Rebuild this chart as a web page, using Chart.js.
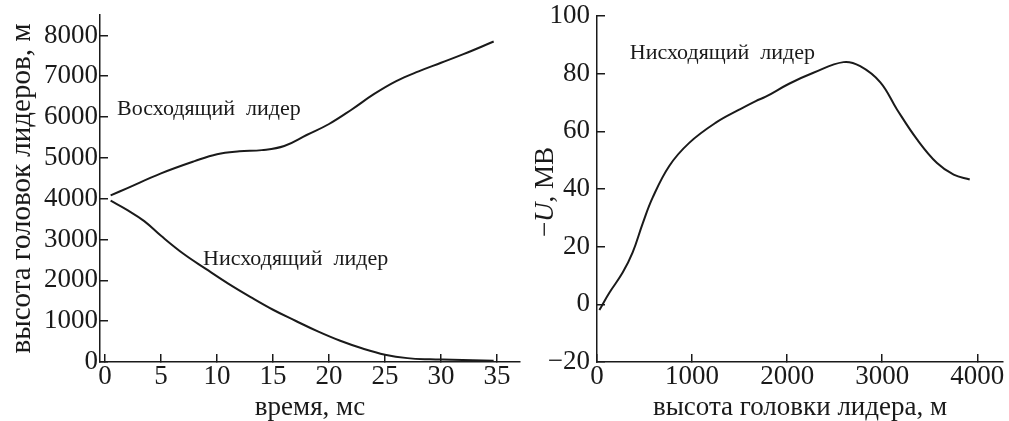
<!DOCTYPE html>
<html>
<head>
<meta charset="utf-8">
<script src="https://cdn.jsdelivr.net/npm/chart.js@4.4.1/dist/chart.umd.min.js"></script>
<style>
  body { margin: 0; background: #fff; width: 1009px; height: 421px; overflow: hidden; position: relative; }
  canvas { position: absolute; top: 0; }
  #left { left: 0; }
  #right { left: 505px; }
</style>
</head>
<body>
<canvas id="left" width="525" height="421"></canvas>
<canvas id="right" width="504" height="421"></canvas>
<script>
// left panel: heights of the leader heads vs time
const timeTicks = [0, 5, 10, 15, 20, 25, 30, 35];
const heightTicks = [0, 1000, 2000, 3000, 4000, 5000, 6000, 7000, 8000];

const upwardTime   = [0.5, 2, 5, 8, 10, 12, 14, 16, 18, 20, 22, 24, 26, 28, 30, 32, 34.7];
const upwardHeight = [4080, 4260, 4620, 4920, 5090, 5160, 5190, 5290, 5560, 5830, 6180, 6560, 6880, 7120, 7330, 7540, 7850];

const downwardTime   = [0.5, 2, 3.5, 5, 7, 9, 11, 13, 15, 17, 19, 21, 23, 25, 27, 29, 31, 34.7];
const downwardHeight = [3950, 3720, 3450, 3090, 2650, 2280, 1920, 1590, 1280, 1010, 750, 520, 330, 180, 95, 65, 55, 30];

// right panel: potential of the descending leader head vs its height
const headHeightTicks = [0, 1000, 2000, 3000, 4000];
const potentialTicks = [-20, 0, 20, 40, 60, 80, 100];

const headHeight = [25, 130, 270, 375, 480, 585, 760, 970, 1250, 1495, 1670, 1775, 2020, 2276, 2592, 2768, 2980, 3155, 3366, 3576, 3751, 3920];
const potential  = [-2, 4, 11, 18, 28, 37, 48, 56, 63, 67.5, 70.5, 72, 76.5, 80.3, 84, 82.6, 77, 67.6, 57.2, 49, 45, 43.3];

const ink = '#1a1a1a';
const serif = '"Liberation Serif", "Times New Roman", serif';
Chart.defaults.font.family = serif;
Chart.defaults.color = ink;

function toPoints(xs, ys) {
    return xs.map((x, i) => ({ x: x, y: ys[i] }));
}

function curve(xs, ys) {
    return {
        data: toPoints(xs, ys),
        borderColor: ink,
        borderWidth: 2,
        pointRadius: 0,
        fill: false,
        tension: 0.4
    };
}

function minusSign(v) {
    return v < 0 ? '\u2212' + Math.abs(v) : String(v);
}

// axis with inward tick marks and a fixed size so the plot box lands where it should
function axis(list, min, max, size, labelPad, title) {
    return {
        type: 'linear',
        min: min,
        max: max,
        afterBuildTicks: scale => { scale.ticks = list.map(v => ({ value: v })); },
        afterFit: scale => {
            if (scale.isHorizontal()) scale.height = size; else scale.width = size;
            // labels may hang over the plot edges, don't let them shrink it
            scale.paddingTop = scale.paddingBottom = scale.paddingLeft = scale.paddingRight = 0;
        },
        border: { color: ink, width: 1.5 },
        grid: { drawOnChartArea: false, drawTicks: true, tickLength: -8, color: ink, lineWidth: 1.5 },
        ticks: {
            font: { size: 27, lineHeight: 1 },
            color: ink,
            padding: labelPad,
            maxRotation: 0,
            autoSkip: false,
            callback: minusSign
        },
        title: title
    };
}

const textLabels = {
    id: 'textLabels',
    afterDatasetsDraw(chart, args, opts) {
        const { ctx, scales: { x, y } } = chart;
        ctx.save();
        ctx.font = '22px ' + serif;
        ctx.fillStyle = ink;
        ctx.textBaseline = 'alphabetic';
        opts.items.forEach(item => {
            ctx.fillText(item.text, x.getPixelForValue(item.x), y.getPixelForValue(item.y));
        });
        ctx.restore();
    }
};

// "−U, МВ" with an italic U, drawn rotated beside the right y axis
const potentialTitle = {
    id: 'potentialTitle',
    afterDraw(chart) {
        const { ctx, chartArea } = chart;
        const parts = [
            { text: '\u2212', font: '27px ' + serif },
            { text: 'U', font: 'italic 27px ' + serif },
            { text: ', МВ', font: '27px ' + serif }
        ];
        let total = 0;
        parts.forEach(p => { ctx.font = p.font; p.w = ctx.measureText(p.text).width; total += p.w; });
        ctx.save();
        ctx.translate(chartArea.left - 51, (chartArea.top + chartArea.bottom) / 2 + 3);
        ctx.rotate(-Math.PI / 2);
        ctx.fillStyle = ink;
        ctx.textBaseline = 'middle';
        let pos = -total / 2;
        parts.forEach(p => {
            ctx.font = p.font;
            ctx.fillText(p.text, pos, 0);
            pos += p.w;
        });
        ctx.restore();
    }
};

new Chart(document.getElementById('left'), {
    type: 'line',
    data: { datasets: [curve(upwardTime, upwardHeight), curve(downwardTime, downwardHeight)] },
    options: {
        responsive: false,
        animation: false,
        layout: { padding: { top: 15, right: 5, left: 0, bottom: 0 } },
        plugins: {
            legend: { display: false },
            tooltip: { enabled: false },
            textLabels: {
                items: [
                    { text: 'Восходящий  лидер', x: 1.07, y: 6040 },
                    { text: 'Нисходящий  лидер', x: 8.75, y: 2370 }
                ]
            }
        },
        scales: {
            x: axis(timeTicks, -0.45, 37.05, 59, 9, {
                display: true, text: 'время, мс', font: { size: 27, lineHeight: 1 }, color: ink, padding: { bottom: 0 }
            }),
            y: axis(heightTicks, 0, 8500, 100, 10, {
                display: true, text: 'высота головок лидеров, м', font: { size: 29, lineHeight: 1 }, color: ink, padding: { top: 8 }
            })
        }
    },
    plugins: [textLabels]
});

new Chart(document.getElementById('right'), {
    type: 'line',
    data: { datasets: [curve(headHeight, potential)] },
    options: {
        responsive: false,
        animation: false,
        layout: { padding: { top: 16, right: 6, left: 0, bottom: 0 } },
        plugins: {
            legend: { display: false },
            tooltip: { enabled: false },
            textLabels: {
                items: [
                    { text: 'Нисходящий  лидер', x: 345, y: 85.2 }
                ]
            }
        },
        scales: {
            x: axis(headHeightTicks, 0, 4270, 59, 9, {
                display: true, text: 'высота головки лидера, м', font: { size: 27, lineHeight: 1 }, color: ink, padding: { bottom: 0 }
            }),
            y: axis(potentialTicks, -20, 100, 92, 15, { display: false })
        }
    },
    plugins: [textLabels, potentialTitle]
});
</script>
</body>
</html>
